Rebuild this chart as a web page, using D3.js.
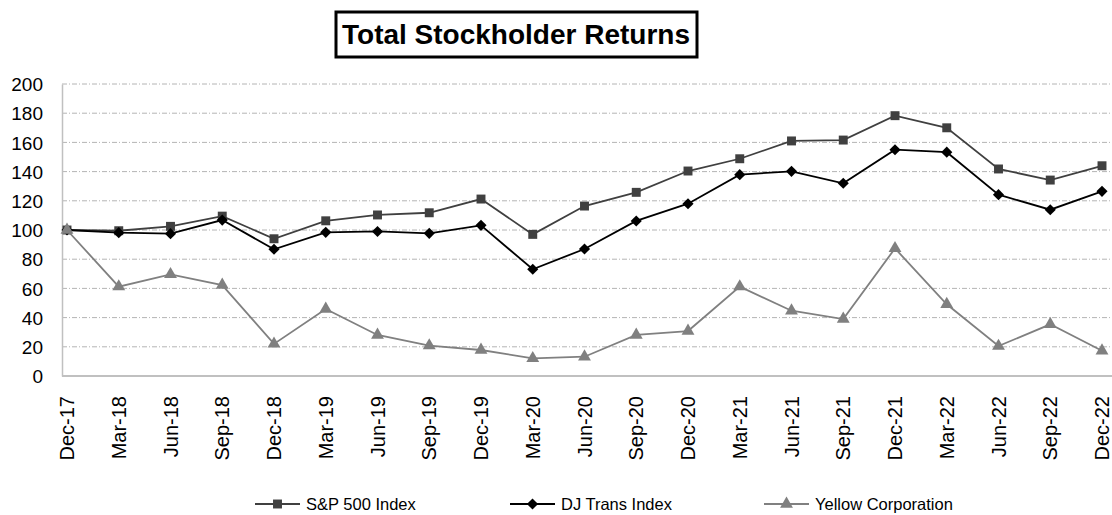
<!DOCTYPE html>
<html>
<head>
<meta charset="utf-8">
<script src="https://cdn.jsdelivr.net/npm/d3@7"></script>
<style>
  body { margin: 0; background: #fff; }
  text { font-family: Arial, "Liberation Sans", sans-serif; }
</style>
</head>
<body>
<svg id="chart" width="1112" height="515"></svg>
<script>
const quarters = ["Dec-17", "Mar-18", "Jun-18", "Sep-18", "Dec-18", "Mar-19", "Jun-19", "Sep-19", "Dec-19",
  "Mar-20", "Jun-20", "Sep-20", "Dec-20", "Mar-21", "Jun-21", "Sep-21", "Dec-21", "Mar-22", "Jun-22", "Sep-22", "Dec-22"];

const sp500 = [100, 99.5, 102.5, 109.5, 94, 106.3, 110.3, 111.8, 121.2, 97, 116.4, 125.8, 140.4, 148.8, 161, 161.6, 178.3, 170, 141.8, 134.2, 144];
const djTrans = [100, 98.2, 97.5, 106.8, 86.8, 98.4, 99, 97.7, 103.2, 73.1, 87, 106.2, 118, 137.9, 140.2, 132, 155, 153.3, 124.2, 113.9, 126.5];
const yellow = [100, 61.2, 69.6, 62.3, 22, 45.9, 28.1, 20.8, 17.8, 12.1, 13.2, 28.1, 30.8, 61.2, 44.7, 39, 87.4, 49.1, 20.5, 35.4, 17.3];

const yTicks = [0, 20, 40, 60, 80, 100, 120, 140, 160, 180, 200];

const seriesNames = ["S&P 500 Index", "DJ Trans Index", "Yellow Corporation"];

const series = [
  { name: seriesNames[0], values: sp500, color: "#404040", symbol: d3.symbolSquare, size: 80, rotate: 0, legendX: 255 },
  { name: seriesNames[1], values: djTrans, color: "#000000", symbol: d3.symbolSquare, size: 62, rotate: 45, legendX: 510 },
  { name: seriesNames[2], values: yellow, color: "#808080", symbol: d3.symbolTriangle, size: 72, rotate: 0, legendX: 764 }
];

const svg = d3.select("#chart");
const plotLeft = 62, plotRight = 1112, plotTop = 84, plotBottom = 376;

const x = d3.scalePoint().domain(quarters).range([67, 1102]);
const y = d3.scaleLinear().domain([0, 200]).range([plotBottom, plotTop]);

// title box
svg.append("rect")
  .attr("x", 336).attr("y", 12)
  .attr("width", 361).attr("height", 45)
  .attr("fill", "#fff").attr("stroke", "#000").attr("stroke-width", 3);
svg.append("text")
  .attr("x", 516).attr("y", 44)
  .attr("text-anchor", "middle")
  .style("font-size", "28px").style("font-weight", "bold")
  .text("Total Stockholder Returns");

// gridlines
svg.append("g")
  .selectAll("line")
  .data(yTicks.filter(d => d > 0))
  .join("line")
  .attr("x1", plotLeft).attr("x2", plotRight)
  .attr("y1", d => y(d)).attr("y2", d => y(d))
  .attr("stroke", "#b4b4b4").attr("stroke-width", 1)
  .attr("stroke-dasharray", "5,2,1,2");

// y axis
const yAxis = svg.append("g")
  .attr("transform", `translate(${plotLeft},0)`)
  .call(d3.axisLeft(y).tickValues(yTicks).tickSize(0).tickPadding(19));
yAxis.select(".domain").attr("stroke", "#c0c0c0").attr("stroke-width", 1.5);
yAxis.selectAll("text")
  .style("font-size", "19px").attr("fill", "#000")
  .attr("dy", "0.35em");

// x axis line
svg.append("line")
  .attr("x1", plotLeft).attr("x2", plotRight)
  .attr("y1", plotBottom).attr("y2", plotBottom)
  .attr("stroke", "#c0c0c0").attr("stroke-width", 2);

// x labels
svg.append("g")
  .selectAll("text")
  .data(quarters)
  .join("text")
  .attr("transform", d => `translate(${x(d) + 7},396) rotate(-90)`)
  .attr("text-anchor", "end")
  .style("font-size", "20px")
  .text(d => d);

// lines and markers
const line = d3.line()
  .x((d, i) => x(quarters[i]))
  .y(d => y(d));

series.forEach(s => {
  svg.append("path")
    .datum(s.values)
    .attr("d", line)
    .attr("fill", "none")
    .attr("stroke", s.color)
    .attr("stroke-width", 1.8);

  svg.append("g")
    .selectAll("path")
    .data(s.values)
    .join("path")
    .attr("d", d3.symbol().type(s.symbol).size(s.size))
    .attr("transform", (d, i) => `translate(${x(quarters[i])},${y(d)}) rotate(${s.rotate})`)
    .attr("fill", s.color);
});

// legend
const legend = svg.append("g").attr("transform", "translate(0,504)");
series.forEach(s => {
  const g = legend.append("g").attr("transform", `translate(${s.legendX},0)`);
  g.append("line")
    .attr("x1", 0).attr("x2", 45)
    .attr("stroke", s.color).attr("stroke-width", 1.8);
  g.append("path")
    .attr("d", d3.symbol().type(s.symbol).size(s.size)())
    .attr("transform", `translate(22.5,0) rotate(${s.rotate})`)
    .attr("fill", s.color);
  g.append("text")
    .attr("x", 51).attr("y", 6)
    .style("font-size", "16.5px")
    .text(s.name);
});
</script>
</body>
</html>
